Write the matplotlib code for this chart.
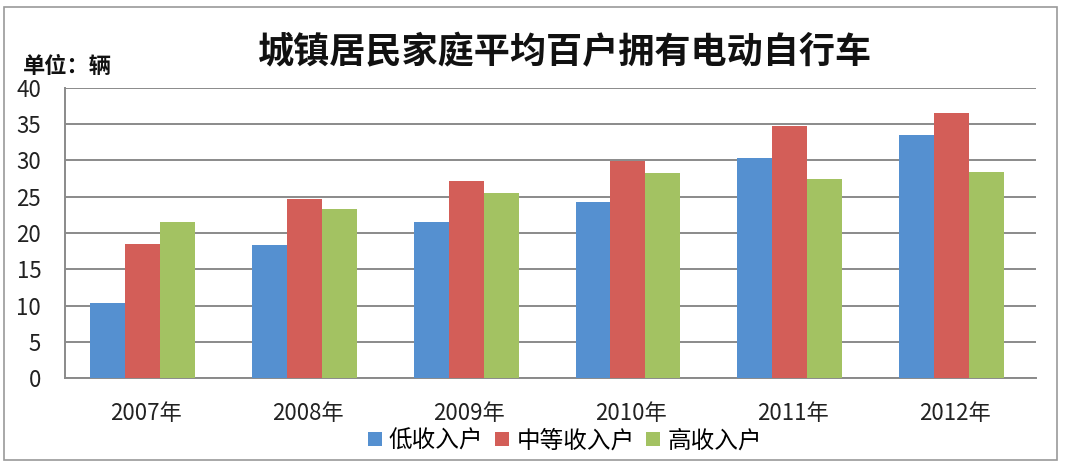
import matplotlib.pyplot as plt
import numpy as np
from matplotlib.patches import Rectangle

plt.rcParams['font.family'] = ['Noto Sans CJK SC', 'DejaVu Sans']

# data
years = ['2007年', '2008年', '2009年', '2010年', '2011年', '2012年']
low_income = [10.4, 18.3, 21.5, 24.3, 30.4, 33.5]
mid_income = [18.5, 24.7, 27.2, 29.9, 34.8, 36.5]
high_income = [21.5, 23.3, 25.5, 28.2, 27.5, 28.4]
series_names = ['低收入户', '中等收入户', '高收入户']
colors = ['#5590D0', '#D35E58', '#A3C262']

fig = plt.figure(figsize=(10.8, 4.65), dpi=100)
ax = fig.add_axes([0.060, 0.187, 0.899, 0.624])

x = np.arange(len(years))
w = 0.216
for i, (vals, name, c) in enumerate(zip([low_income, mid_income, high_income], series_names, colors)):
    ax.bar(x + (i - 1) * w - 0.02, vals, width=w, color=c, label=name, zorder=3)

ax.set_xlim(-0.5, len(years) - 0.5)
ax.set_ylim(0, 40)
ax.set_yticks(range(0, 41, 5))
ax.set_xticks(x)
ax.set_xticklabels(years)
ax.yaxis.grid(True, color='#8a8a8a', linewidth=1.4, zorder=0)
ax.tick_params(axis='both', length=0, labelsize=16, colors='#222222')
ax.tick_params(axis='y', pad=17)
ax.tick_params(axis='x', pad=17)
for s in ['top', 'right']:
    ax.spines[s].set_visible(False)
for s in ['left', 'bottom']:
    ax.spines[s].set_color('#8a8a8a')
    ax.spines[s].set_linewidth(1.4)

fig.text(0.523, 0.886, '城镇居民家庭平均百户拥有电动自行车', ha='center', va='center',
         fontsize=26, fontweight='bold', color='#111111')
fig.text(0.021, 0.856, '单位：辆', ha='left', va='center', fontsize=16,
         fontweight='bold', color='#111111')

fig.legend(loc='center', bbox_to_anchor=(0.523, 0.052), ncol=3, frameon=False,
           fontsize=17, handlelength=0.6, handleheight=0.6, handletextpad=0.3,
           columnspacing=0.5)

# outer border of the chart
fig.patches.append(Rectangle((4 / 1080, 1 - 460 / 465), 1053 / 1080, 453 / 465,
                             transform=fig.transFigure, fill=False,
                             edgecolor='#9a9a9a', linewidth=1.2))

fig.savefig('out.png', dpi=100)
